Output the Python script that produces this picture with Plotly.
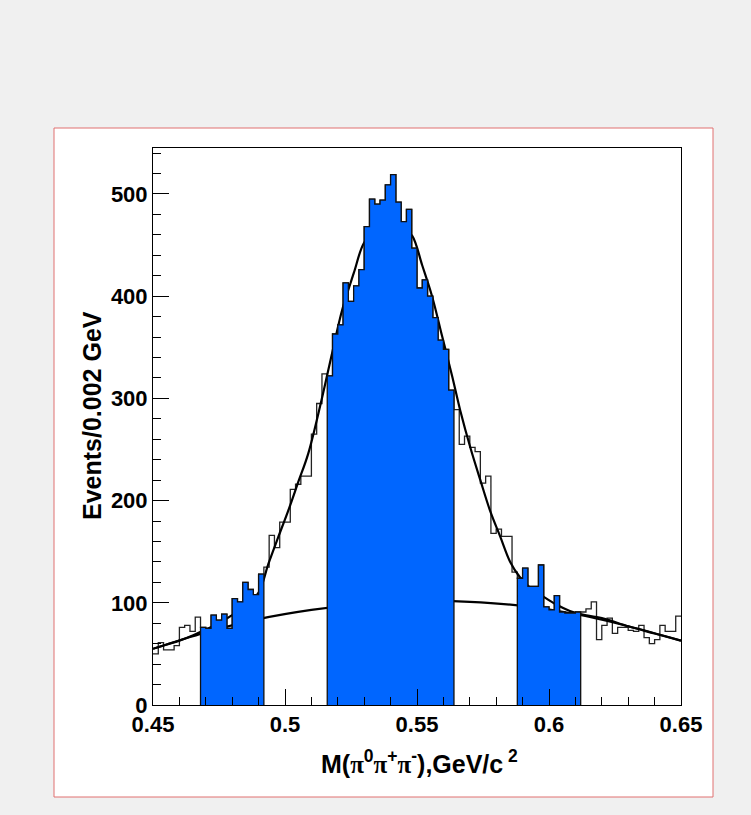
import plotly.graph_objects as go

# ---------------- data ----------------
bin_low = 0.45
bin_width = 0.002
counts = [50, 61, 54, 54, 58, 76, 78, 72, 86, 76,
          75, 88, 83, 89, 75, 104, 101, 120, 113, 108,
          128, 135, 166, 154, 179, 179, 211, 216, 224, 224,
          265, 295, 324, 322, 363, 372, 413, 395, 410, 426,
          468, 495, 490, 494, 509, 519, 492, 473, 485, 447,
          408, 416, 400, 379, 357, 348, 308, 289, 255, 263,
          252, 248, 217, 224, 168, 172, 165, 165, 130, 124,
          134, 116, 116, 137, 96, 93, 107, 91, 90, 90,
          91, 91, 94, 101, 64, 78, 85, 70, 76, 76,
          73, 72, 78, 66, 60, 64, 78, 72, 72, 87]

regions = [(0.468, 0.492), (0.516, 0.564), (0.588, 0.612)]

fit_x = [0.450, 0.455, 0.460, 0.465, 0.470, 0.475, 0.480, 0.485, 0.490, 0.4937,
         0.4974, 0.5012, 0.505, 0.5088, 0.5138, 0.5179, 0.5217, 0.5261, 0.5299, 0.535,
         0.540, 0.545, 0.5482, 0.552, 0.5557, 0.5595, 0.5633, 0.5664, 0.5702, 0.574,
         0.5777, 0.5815, 0.5853, 0.589, 0.5928, 0.5979, 0.6029, 0.6079, 0.6118, 0.62,
         0.63, 0.64, 0.65]
fit_total = [55, 59, 63, 68, 74, 80, 88, 97, 110, 138,
             164, 190, 218, 246, 298, 345, 387, 423, 452, 467,
             471, 466, 459, 430, 400, 361, 322, 288, 252, 220,
             190, 165, 140, 125, 115, 106, 98, 92, 89, 85,
             77, 70, 63]

bkg_x = [0.45, 0.47, 0.49, 0.51, 0.53, 0.55, 0.57, 0.59, 0.61, 0.63, 0.65]
bkg_y = [55, 71, 84, 93, 99, 102, 101, 97, 89, 77, 63]

x_ticks = [0.45, 0.5, 0.55, 0.6, 0.65]
x_tick_labels = ["0.45", "0.5", "0.55", "0.6", "0.65"]
y_ticks = [0, 100, 200, 300, 400, 500]
y_tick_labels = ["0", "100", "200", "300", "400", "500"]

# ---------------- figure ----------------
n = len(counts)
edges = [bin_low + i * bin_width for i in range(n + 1)]

FONT = "Liberation Sans"
BLUE = "#0066ff"

fig = go.Figure()

# full histogram outline
fig.add_trace(go.Scatter(
    x=edges, y=counts + [counts[-1]], mode="lines",
    line=dict(shape="hv", color="#222222", width=1.3),
    hoverinfo="skip", showlegend=False))

# fit curves
fig.add_trace(go.Scatter(x=bkg_x, y=bkg_y, mode="lines",
                         line=dict(shape="spline", color="black", width=2.2),
                         showlegend=False))
fig.add_trace(go.Scatter(x=fit_x, y=fit_total, mode="lines",
                         line=dict(shape="spline", color="black", width=2.2),
                         showlegend=False))

# filled regions
for lo, hi in regions:
    idx = [i for i in range(n) if lo - 1e-9 <= edges[i] and edges[i + 1] <= hi + 1e-9]
    xs = [edges[idx[0]]]
    ys = [0]
    for i in idx:
        xs.append(edges[i])
        ys.append(counts[i])
    xs.append(edges[idx[-1] + 1]); ys.append(counts[idx[-1]])
    xs.append(edges[idx[-1] + 1]); ys.append(0)
    fig.add_trace(go.Scatter(
        x=xs, y=ys, mode="lines", fill="toself", fillcolor=BLUE,
        line=dict(shape="hv", color="#111111", width=1.3),
        hoverinfo="skip", showlegend=False))

tickfont = dict(family=FONT, size=22, color="black", weight="bold")

fig.update_xaxes(
    range=[0.45, 0.65], showgrid=False, zeroline=False,
    showline=True, linecolor="black", linewidth=1, mirror=True,
    ticks="inside", ticklen=16, tickcolor="black", tickwidth=1,
    tickvals=x_ticks, ticktext=x_tick_labels, tickfont=tickfont,
    minor=dict(ticks="inside", ticklen=8, tick0=0.45, dtick=0.01,
               tickcolor="black", showgrid=False))
fig.update_yaxes(
    range=[0, 545], showgrid=False, zeroline=False,
    showline=True, linecolor="black", linewidth=1, mirror=True,
    ticks="inside", ticklen=16, tickcolor="black", tickwidth=1,
    tickvals=y_ticks, ticktext=y_tick_labels, tickfont=tickfont,
    minor=dict(ticks="inside", ticklen=8, tick0=0, dtick=20,
               tickcolor="black", showgrid=False))

L, R, T, B = 153, 70, 148, 110
W, H = 751, 815
pw, ph = W - L - R, H - T - B

def px2paper_x(px):
    return (px - L) / pw

def px2paper_y(py):
    return (H - B - py) / ph

fig.add_shape(type="rect", xref="paper", yref="paper",
              x0=px2paper_x(54), x1=px2paper_x(713),
              y0=px2paper_y(797), y1=px2paper_y(128),
              fillcolor="white", line=dict(color="#e07070", width=1),
              layer="below")

pi = "<span style='font-family:Liberation Serif'>π</span>"
fig.add_annotation(
    xref="paper", yref="paper", x=px2paper_x(419), y=px2paper_y(762),
    text="M(" + pi + "<sup>0</sup>" + pi + "<sup>+</sup>" + pi + "<sup>-</sup>),GeV/c<sup> 2</sup>",
    showarrow=False, xanchor="center", yanchor="middle",
    font=dict(family=FONT, size=25, color="black", weight="bold"))
fig.add_annotation(
    xref="paper", yref="paper", x=px2paper_x(92), y=px2paper_y(416),
    text="Events/0.002 GeV", textangle=-90,
    showarrow=False, xanchor="center", yanchor="middle",
    font=dict(family=FONT, size=25, color="black", weight="bold"))

fig.update_layout(
    width=W, height=H, margin=dict(l=L, r=R, t=T, b=B, pad=0),
    paper_bgcolor="#f0f0f0", plot_bgcolor="white", showlegend=False)

fig.write_html("out.html")
